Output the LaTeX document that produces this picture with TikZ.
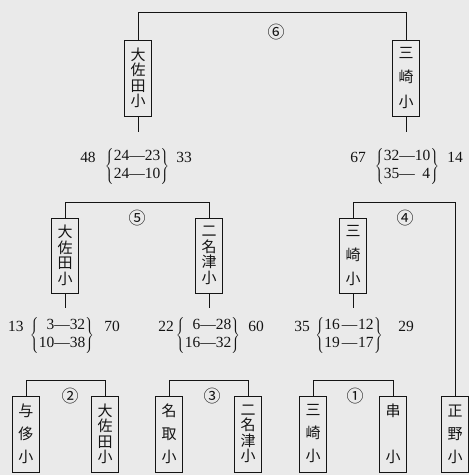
\documentclass[tikz,border=0pt]{standalone}
\usepackage{fontspec}
\setmainfont{Liberation Serif}
\newfontfamily\cjk{Noto Sans CJK JP}
\definecolor{bg}{RGB}{234,234,234}
\definecolor{ink}{RGB}{20,20,20}
\begin{document}
\begin{tikzpicture}[x=1pt,y=-1pt,
  box/.style={draw=ink,line width=0.9pt,minimum width=27pt,inner sep=0pt,
    font=\cjk\fontsize{15}{15.5}\selectfont,align=center,text=ink},
  conn/.style={draw=ink,line width=0.9pt},
  rnd/.style={font=\cjk\fontsize{17}{17}\selectfont,text=ink,inner sep=0pt},
  score/.style={font=\fontsize{15.5}{18}\selectfont,text=ink,inner sep=0pt}]
\fill[bg] (0,0) rectangle (469,475);
\useasboundingbox (0,0) rectangle (469,475);
% top boxes
\node[box,minimum height=76pt] (T1) at (138,78) {大\\佐\\田\\小};
\node[box,minimum height=76pt] (T2) at (406,78) {三\\[9pt]崎\\[9pt]小};
% middle boxes
\node[box,minimum height=75pt] (M1) at (65,255.5) {大\\佐\\田\\小};
\node[box,minimum height=75pt] (M2) at (209,255.5) {二\\名\\津\\小};
\node[box,minimum height=75pt] (M3) at (353,255.5) {三\\[8.5pt]崎\\[8.5pt]小};
% bottom boxes
\node[box,minimum height=76pt] (B1) at (26,434) {与\\[7.5pt]侈\\[7.5pt]小};
\node[box,minimum height=76pt] (B2) at (105,434) {大\\佐\\田\\小};
\node[box,minimum height=76pt] (B3) at (169,434) {名\\[7.5pt]取\\[7.5pt]小};
\node[box,minimum height=76pt] (B4) at (248,434) {二\\名\\津\\小};
\node[box,minimum height=76pt] (B5) at (313,434) {三\\[7.5pt]崎\\[7.5pt]小};
\node[box,minimum height=76pt] (B6) at (393,434) {串\\[30.5pt]小};
\node[box,minimum height=76pt] (B7) at (455,434) {正\\[7.5pt]野\\[7.5pt]小};
% bracket levels
\coordinate (y6) at (0,12);
\coordinate (y5) at (0,202);
\coordinate (y2) at (0,380);
\draw[conn] (T1.north) -- (T1.north |- y6) -| (T2.north);
\draw[conn] (M1.north) -- (M1.north |- y5) -| (M2.north);
\draw[conn] (M3.north) -- (M3.north |- y5) -| (B7.north);
\draw[conn] (B1.north) -- (B1.north |- y2) -| (B2.north);
\draw[conn] (B3.north) -- (B3.north |- y2) -| (B4.north);
\draw[conn] (B5.north) -- (B5.north |- y2) -| (B6.north);
% stubs
\draw[conn] (T1.south) -- ++(0,16);
\draw[conn] (T2.south) -- ++(0,16);
\draw[conn] (M1.south) -- ++(0,15);
\draw[conn] (M2.south) -- ++(0,15);
\draw[conn] (M3.south) -- ++(0,15);
% round labels
\node[rnd] (r6) at (276,32) {⑥};
\node[rnd] (r5) at (137,218) {⑤};
\node[rnd] (r4) at (405,218) {④};
\node[rnd] (r2) at (70,396) {②};
\node[rnd] (r3) at (212,396) {③};
\node[rnd] (r1) at (355,396) {①};
% scores
\node[score] (s6a) at (88,157) {48};
\node[score] (s6b) at (137,166) {$\left\{\begin{array}{@{}l@{}}\mbox{24---23}\\\mbox{24---10}\end{array}\right\}$};
\node[score] (s6c) at (184,157) {33};
\node[score] (s4a) at (358,157) {67};
\node[score] (s4b) at (407,166) {$\left\{\begin{array}{@{}l@{}}\mbox{32---10}\\\mbox{35---\phantom{1}4}\end{array}\right\}$};
\node[score] (s4c) at (455,157) {14};
\node[score] (s2a) at (16,326) {13};
\node[score] (s2b) at (62,335) {$\left\{\begin{array}{@{}l@{}}\mbox{\phantom{1}3---32}\\\mbox{10---38}\end{array}\right\}$};
\node[score] (s2c) at (112,326) {70};
\node[score] (s3a) at (166,326) {22};
\node[score] (s3b) at (208,335) {$\left\{\begin{array}{@{}l@{}}\mbox{\phantom{1}6---28}\\\mbox{16---32}\end{array}\right\}$};
\node[score] (s3c) at (256,326) {60};
\node[score] (s1a) at (302,326) {35};
\node[score] (s1b) at (349,335) {$\left\{\begin{array}{@{}l@{}}\mbox{16\hspace{2pt}---\hspace{1pt}12}\\\mbox{19\hspace{2pt}---\hspace{1pt}17}\end{array}\right\}$};
\node[score] (s1c) at (406,326) {29};
\end{tikzpicture}
\end{document}
